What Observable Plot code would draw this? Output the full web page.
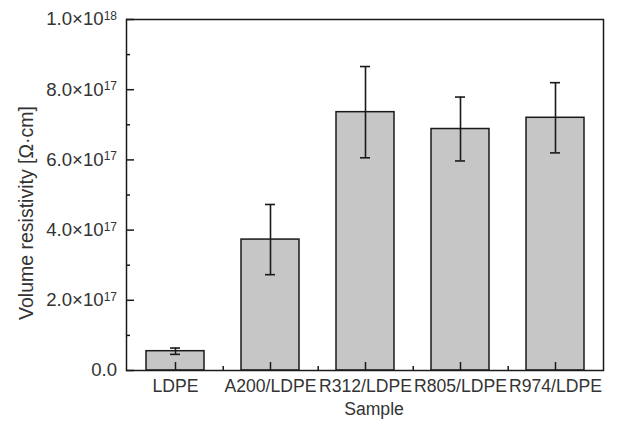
<!DOCTYPE html>
<html>
<head>
<meta charset="utf-8">
<script src="https://cdn.jsdelivr.net/npm/d3@7"></script>
<script src="https://cdn.jsdelivr.net/npm/@observablehq/plot@0.6"></script>
<style>
  html, body { margin: 0; padding: 0; background: #fff; }
  svg { display: block; }
</style>
</head>
<body>
<div id="chart"></div>
<script>
const samples = ["LDPE", "A200/LDPE", "R312/LDPE", "R805/LDPE", "R974/LDPE"];
const resistivity = [5.5e16, 3.73e17, 7.36e17, 6.88e17, 7.2e17];
const errors = [0.9e16, 1.0e17, 1.3e17, 0.91e17, 1.0e17];
const majorTicks = [0, 2e17, 4e17, 6e17, 8e17, 1e18];
const minorTicks = [1e17, 3e17, 5e17, 7e17, 9e17];
const xLabel = "Sample";
const yLabel = "Volume resistivity [Ω·cm]";

const data = samples.map((s, i) => ({sample: s, value: resistivity[i], err: errors[i]}));

const W = 618, H = 424;
const mL = 126, mR = 15, mT = 19, mB = 54;
const step = (W - mL - mR) / samples.length;
const ink = "#1a1a1a";
const textColor = "#333";
const fs = 17.6;
const fsYT = 18.6;
const fsY = 19.5;

function fmt(v) {
  if (v === 0) return "0.0";
  const e = Math.floor(Math.log10(v) + 1e-9);
  const m = v / Math.pow(10, e);
  return m.toFixed(1) + "×10^" + e;
}

const plot = Plot.plot({
  width: W,
  height: H,
  marginLeft: mL,
  marginRight: mR,
  marginTop: mT,
  marginBottom: mB,
  style: {fontFamily: "'Liberation Sans', Arial, sans-serif", fontSize: fs + "px", color: textColor, background: "#fff"},
  x: {domain: samples, paddingInner: 0.39, paddingOuter: 0.195, label: null},
  y: {domain: [0, 1e18], label: null},
  marks: [
    Plot.barY(data, {x: "sample", y: "value", fill: "#c6c6c6", stroke: ink, strokeWidth: 1.5}),
    Plot.ruleX(data, {x: "sample", y1: d => d.value - d.err, y2: d => d.value + d.err, stroke: ink, strokeWidth: 1.6}),
    Plot.tickY(data, {x: "sample", y: d => d.value - d.err, stroke: ink, strokeWidth: 1.6, insetLeft: 24, insetRight: 24}),
    Plot.tickY(data, {x: "sample", y: d => d.value + d.err, stroke: ink, strokeWidth: 1.6, insetLeft: 24, insetRight: 24}),
    Plot.frame({stroke: ink, strokeWidth: 1.5}),
    Plot.axisY(majorTicks, {anchor: "left", tickSize: -8, tickPadding: 17.5, stroke: ink, strokeWidth: 1.5, tickFormat: fmt, fill: textColor, fontSize: fsYT, label: null, className: "yaxis"}),
    Plot.axisY(minorTicks, {anchor: "left", tickSize: -4, stroke: ink, strokeWidth: 1.5, text: null, label: null}),
    Plot.axisX({anchor: "bottom", tickSize: -8, tickPadding: 17, stroke: ink, strokeWidth: 1.5, fill: textColor, fontSize: fs, label: null}),
    Plot.axisX(samples.slice(0, 4), {anchor: "bottom", tickSize: -4, stroke: ink, strokeWidth: 1.5, text: null, label: null, dx: step / 2}),
    Plot.text([xLabel], {frameAnchor: "bottom", dx: 9, dy: 44, fontSize: fs, fill: textColor}),
    Plot.text([yLabel], {frameAnchor: "left", textAnchor: "middle", rotate: -90, dx: -100, dy: 18, fontSize: fsY, fill: textColor})
  ]
});

// superscript exponents in y tick labels
d3.select(plot).selectAll("g.yaxis text, [aria-label='y-axis tick label'] text").each(function() {
  const t = this.textContent;
  if (t.includes("^")) {
    const [base, exp] = t.split("^");
    const sel = d3.select(this);
    sel.text(null);
    sel.append("tspan").text(base);
    sel.append("tspan").attr("dy", "-0.45em").attr("font-size", "12px").text(exp);
  }
});

document.getElementById("chart").appendChild(plot);
</script>
</body>
</html>
